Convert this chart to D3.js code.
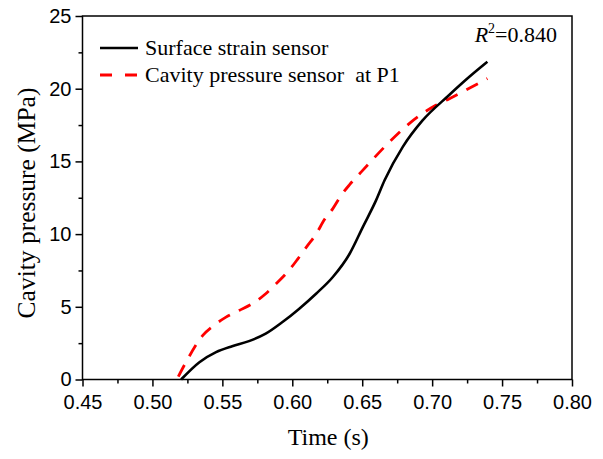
<!DOCTYPE html>
<html>
<head>
<meta charset="utf-8">
<script src="https://cdn.jsdelivr.net/npm/d3@7"></script>
<style>
  html, body { margin: 0; padding: 0; background: #fff; }
  svg { display: block; }
</style>
</head>
<body>
<svg id="chart" width="603" height="459"></svg>
<script>
// ---- Data ----
const strainTime  = [0.5205, 0.5336, 0.5455, 0.557, 0.569, 0.581, 0.593, 0.605, 0.617, 0.629, 0.641, 0.6505, 0.6598, 0.666, 0.679, 0.693, 0.712, 0.7264, 0.7395];
const strainValue = [0, 1.19, 1.88, 2.29, 2.64, 3.15, 3.95, 4.87, 5.9, 7.05, 8.65, 10.5, 12.3, 13.7, 16.0, 17.8, 19.55, 20.8, 21.85];

const cavityTime  = [0.5185, 0.524, 0.536, 0.5455, 0.5526, 0.562, 0.5705, 0.581, 0.588, 0.598, 0.604, 0.611, 0.617, 0.623, 0.629, 0.635, 0.641, 0.6505, 0.667, 0.6836, 0.7026, 0.712, 0.724, 0.7395];
const cavityValue = [0.2, 1.19, 3.03, 3.83, 4.29, 4.75, 5.16, 5.9, 6.54, 7.55, 8.3, 9.22, 10.0, 11.0, 11.75, 12.67, 13.4, 14.4, 16.1, 17.6, 18.86, 19.3, 19.9, 20.7];

const xTicks = [0.45, 0.50, 0.55, 0.60, 0.65, 0.70, 0.75, 0.80];
const yTicks = [0, 5, 10, 15, 20, 25];
const seriesNames = ["Surface strain sensor", "Cavity pressure sensor  at P1"];
const xTitle = "Time (s)";
const yTitle = "Cavity pressure (MPa)";

// ---- Layout ----
const svg = d3.select("#chart");
const L = 82.5, R = 572, T = 16, B = 379.5;
const x = d3.scaleLinear().domain([0.45, 0.80]).range([L, R]);
const y = d3.scaleLinear().domain([0, 25]).range([B, T]);

const sans = "'Liberation Sans', Arial, sans-serif";
const serif = "'Liberation Serif', 'Times New Roman', serif";

// minor ticks
const xMinor = d3.range(0.475, 0.8, 0.05);
const yMinor = d3.range(2.5, 25, 5);

function styleAxis(g) {
  g.select(".domain").remove();
  g.selectAll(".tick line").attr("stroke", "#000").attr("stroke-width", 1.5);
  g.selectAll(".tick text").attr("font-family", sans).attr("font-size", 20).attr("fill", "#000");
}

// x axis
svg.append("g").attr("transform", `translate(0,${B})`)
  .call(d3.axisBottom(x).tickValues(xMinor).tickSize(4).tickFormat(""))
  .call(styleAxis);
svg.append("g").attr("transform", `translate(0,${B})`)
  .call(d3.axisBottom(x).tickValues(xTicks).tickSize(7).tickPadding(8).tickFormat(d3.format(".2f")))
  .call(styleAxis);

// y axis
svg.append("g").attr("transform", `translate(${L},0)`)
  .call(d3.axisLeft(y).tickValues(yMinor).tickSize(4).tickFormat(""))
  .call(styleAxis);
svg.append("g").attr("transform", `translate(${L},0)`)
  .call(d3.axisLeft(y).tickValues(yTicks).tickSize(7).tickPadding(4).tickFormat(d3.format("d")))
  .call(styleAxis);

// frame
svg.append("rect").attr("x", L).attr("y", T).attr("width", R - L).attr("height", B - T)
  .attr("fill", "none").attr("stroke", "#000").attr("stroke-width", 1.5);

// lines
const line = d3.line().x(d => x(d[0])).y(d => y(d[1])).curve(d3.curveMonotoneX);
const strain = strainTime.map((t, i) => [t, strainValue[i]]);
const cavity = cavityTime.map((t, i) => [t, cavityValue[i]]);

svg.append("path").datum(cavity).attr("d", line)
  .attr("fill", "none").attr("stroke", "#ff0000").attr("stroke-width", 2.8)
  .attr("stroke-dasharray", "13,10");
svg.append("path").datum(strain).attr("d", line)
  .attr("fill", "none").attr("stroke", "#000").attr("stroke-width", 2.6);

// legend
const leg = svg.append("g");
leg.append("line").attr("x1", 100).attr("x2", 138).attr("y1", 48).attr("y2", 48)
  .attr("stroke", "#000").attr("stroke-width", 2.6);
leg.append("line").attr("x1", 100).attr("x2", 138).attr("y1", 75).attr("y2", 75)
  .attr("stroke", "#ff0000").attr("stroke-width", 2.8).attr("stroke-dasharray", "12,13");
leg.append("text").attr("x", 145).attr("y", 55).attr("font-family", serif).attr("font-size", 22)
  .text(seriesNames[0]);
leg.append("text").attr("x", 145).attr("y", 82).attr("font-family", serif).attr("font-size", 22)
  .attr("xml:space", "preserve").style("white-space", "pre").text(seriesNames[1]);

// R^2 annotation
const r2 = svg.append("text").attr("x", 557).attr("y", 42).attr("text-anchor", "end")
  .attr("font-family", serif).attr("font-size", 22);
r2.append("tspan").attr("font-style", "italic").text("R");
r2.append("tspan").attr("font-size", 14).attr("dy", -9).text("2");
r2.append("tspan").attr("dy", 9).text("=0.840");

// axis titles
svg.append("text").attr("x", (L + R) / 2 + 1).attr("y", 445).attr("text-anchor", "middle")
  .attr("font-family", serif).attr("font-size", 24).text(xTitle);
svg.append("text").attr("transform", `translate(35,203) rotate(-90)`)
  .attr("text-anchor", "middle").attr("font-family", serif).attr("font-size", 25.5).text(yTitle);
</script>
</body>
</html>
